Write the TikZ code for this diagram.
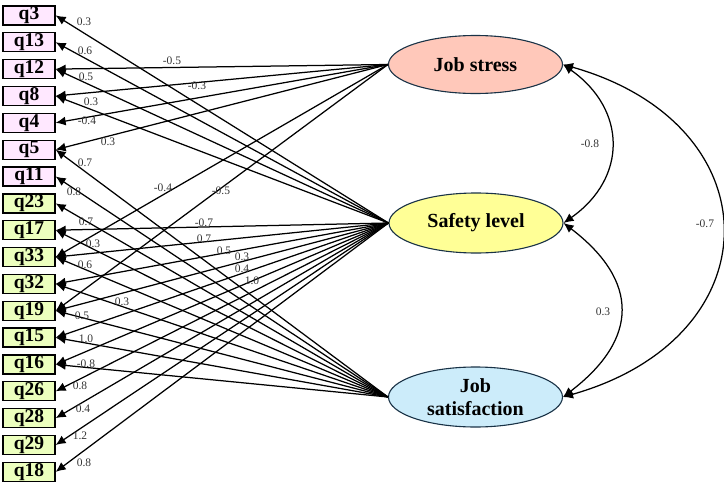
\documentclass[tikz,border=0pt]{standalone}
\usepackage{fontspec}
\setmainfont{Liberation Serif}
\usetikzlibrary{arrows.meta,shapes.geometric}
\definecolor{pinkbox}{RGB}{255,232,255}
\definecolor{greenbox}{RGB}{236,255,190}
\definecolor{jsfill}{RGB}{255,200,186}
\definecolor{slfill}{RGB}{255,255,150}
\definecolor{jsatfill}{RGB}{204,236,250}
\definecolor{edgeblue}{RGB}{25,50,70}
\begin{document}
\begin{tikzpicture}[x=1pt,y=-1pt,
 ind/.style={draw=black,line width=1.3pt,minimum width=52pt,minimum height=19pt,inner sep=0pt,font=\fontsize{19.5}{20}\selectfont\bfseries},
 lat/.style={ellipse,draw=edgeblue,line width=1.1pt,minimum width=174pt,minimum height=58pt,inner sep=0pt,align=center,font=\fontsize{20}{23}\selectfont\bfseries},
 ld/.style={-{Latex[length=10pt,width=9pt]},line width=1.25pt},
 cv/.style={{Latex[length=10pt,width=9pt]}-{Latex[length=10pt,width=9pt]},line width=1.25pt},
 lbl/.style={font=\fontsize{11.5}{12}\selectfont,text=black!80,inner sep=0pt}]
\useasboundingbox (0,0) rectangle (724,493);
% indicators
\foreach \n [count=\i from 0] in {q3,q13,q12,q8,q4,q5,q11}
  \node[ind,fill=pinkbox] (\n) at (29,15.4+\i*26.85) {\n};
\foreach \n [count=\i from 7] in {q23,q17,q33,q32,q19,q15,q16,q26,q28,q29,q18}
  \node[ind,fill=greenbox] (\n) at (29,15.4+\i*26.85) {\n};
% latents
\node[lat,fill=jsfill] (js) at (475.5,64.5) {Job stress};
\node[lat,fill=slfill,minimum height=60pt] (sl) at (476,223) {Safety level};
\node[lat,fill=jsatfill,minimum height=60pt] (jsat) at (475.5,397) {Job\\satisfaction};
% loadings
\foreach \n in {q12,q8,q4,q5,q33,q19}
  \draw[ld] (js.west) -- (\n.east);
\foreach \n in {q3,q13,q12,q8,q17,q33,q32,q19,q15,q16,q26,q28,q29,q18}
  \draw[ld] (sl.west) -- (\n.east);
\foreach \n in {q5,q11,q23,q17,q33,q32,q19,q15,q16}
  \draw[ld] (jsat.west) -- (\n.east);
% covariances
\draw[cv] (js.east) .. controls +(64,45) and +(64,-45) .. (sl.east);
\draw[cv] (sl.east) .. controls +(76,58) and +(76,-58) .. (jsat.east);
\draw[cv] (js.east) .. controls +(212,60) and +(212,-60) .. (jsat.east);
% labels
\foreach \x/\y/\t [count=\k] in {84/22/0.3,85/51/0.6,86/77/0.5,91/102/0.3,87/121/-0.4,108/142/0.3,172/61/-0.5,197/86/-0.3,85/163/0.7,74/192/0.8,86/222/0.7,163/188/-0.4,221/191/-0.5,204/223/-0.7,204/239/0.7,224/251/0.5,242/257/0.3,242/269/0.4,252/281/1.0,93/244/0.3,85/265/0.6,122/302/0.3,82/316/0.5,86/339/1.0,86/364/-0.8,80/386/0.8,83/409/0.4,80/436/1.2,84/463/0.8,590/144/-0.8,603/312/0.3,705/224/-0.7}
  \node[lbl] (lab\k) at (\x,\y) {\t};
\end{tikzpicture}
\end{document}
